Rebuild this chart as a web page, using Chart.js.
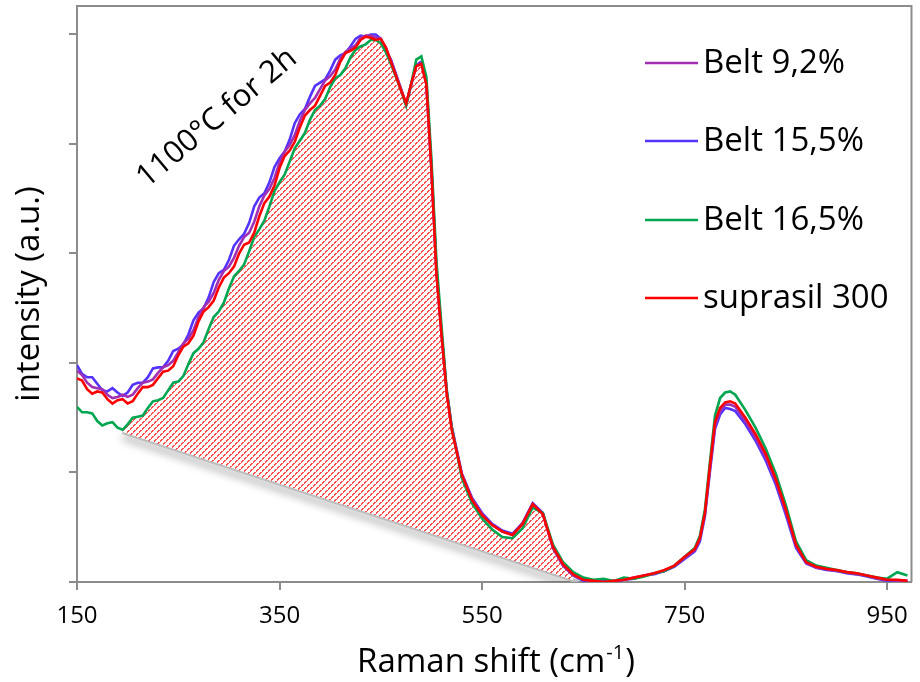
<!DOCTYPE html>
<html>
<head>
<meta charset="utf-8">
<script src="https://cdn.jsdelivr.net/npm/chart.js@4.4.0/dist/chart.umd.min.js"></script>
<style>
  html, body { margin: 0; padding: 0; background: #ffffff; }
  #wrap { width: 920px; height: 682px; }
</style>
</head>
<body>
<div id="wrap"><canvas id="raman" width="920" height="682"></canvas></div>
<script>
// Raman shift positions (cm-1) shared by all spectra
const shift = [
  150,155,160,165,170,175,180,185,190,195,200,205,210,215,220,225,230,235,240,245,250,255,260,265,270,275,280,285,290,295,
  300,305,310,315,320,325,330,335,340,345,350,355,360,365,370,375,380,385,390,395,400,405,410,415,420,425,430,435,440,445,450,455,460,
  470,475,480,485,490,495,500,505,510,515,520,
  530,540,550,560,570,580,590,600,610,620,630,640,650,660,670,680,690,700,710,720,730,740,750,
  760,765,770,775,780,785,790,795,800,
  810,820,830,840,850,860,870,880,890,900,910,920,930,940,950,960,970
];

// Intensities (a.u.)
const belt92 = [
  1.93,1.89,1.82,1.78,1.77,1.76,1.71,1.68,1.69,1.71,1.69,1.71,1.77,1.82,1.83,1.85,1.91,1.96,1.98,2.02,2.10,2.18,2.22,2.30,2.42,2.51,2.56,2.64,2.76,2.84,
  2.88,2.96,3.07,3.15,3.19,3.29,3.43,3.53,3.59,3.69,3.83,3.93,3.99,4.08,4.21,4.31,4.37,4.42,4.50,4.58,4.62,4.68,4.78,4.84,4.87,4.90,4.97,4.99,4.99,4.97,4.96,4.88,4.76,
  4.50,4.36,4.55,4.72,4.74,4.55,3.77,2.82,2.26,1.74,1.41,
  0.98,0.76,0.62,0.52,0.46,0.43,0.53,0.71,0.62,0.31,0.15,0.06,0.02,0.01,0.00,0.01,0.02,0.04,0.06,0.08,0.10,0.15,0.22,
  0.29,0.39,0.62,1.04,1.43,1.56,1.62,1.62,1.60,
  1.47,1.32,1.14,0.92,0.64,0.33,0.18,0.13,0.12,0.10,0.09,0.07,0.06,0.03,0.02,0.01,0.01
];
const belt155 = [
  1.98,1.90,1.87,1.87,1.81,1.75,1.74,1.77,1.73,1.70,1.73,1.80,1.82,1.82,1.87,1.95,1.96,1.96,2.02,2.11,2.13,2.17,2.26,2.39,2.46,2.50,2.60,2.74,2.82,2.85,
  2.94,3.07,3.13,3.18,3.28,3.43,3.51,3.55,3.65,3.79,3.87,3.93,4.04,4.19,4.27,4.32,4.43,4.53,4.56,4.59,4.67,4.77,4.81,4.83,4.89,4.96,4.99,4.98,5.00,5.00,4.96,4.85,4.77,
  4.50,4.36,4.54,4.72,4.75,4.55,3.78,2.84,2.27,1.75,1.42,
  0.99,0.77,0.63,0.53,0.47,0.44,0.54,0.72,0.63,0.31,0.15,0.06,0.01,0.00,0.01,0.00,0.02,0.03,0.06,0.07,0.10,0.14,0.21,
  0.28,0.37,0.60,1.01,1.40,1.53,1.59,1.58,1.56,
  1.44,1.29,1.11,0.89,0.61,0.31,0.17,0.13,0.11,0.10,0.08,0.07,0.05,0.03,0.01,0.01,0.01
];
const belt165 = [
  1.60,1.55,1.55,1.54,1.47,1.43,1.45,1.46,1.41,1.39,1.44,1.50,1.51,1.52,1.59,1.65,1.66,1.68,1.75,1.82,1.83,1.88,1.99,2.09,2.13,2.19,2.31,2.42,2.47,2.55,
  2.68,2.79,2.84,2.90,3.02,3.15,3.22,3.30,3.43,3.57,3.65,3.72,3.84,3.96,4.03,4.10,4.22,4.31,4.35,4.41,4.52,4.60,4.63,4.69,4.79,4.86,4.89,4.91,4.95,4.95,4.92,4.84,4.73,
  4.49,4.35,4.55,4.77,4.80,4.61,3.86,2.92,2.33,1.76,1.41,
  0.95,0.72,0.58,0.48,0.41,0.40,0.49,0.68,0.63,0.34,0.18,0.09,0.04,0.02,0.03,0.01,0.04,0.03,0.05,0.08,0.10,0.15,0.23,
  0.31,0.42,0.66,1.10,1.52,1.68,1.73,1.74,1.71,
  1.57,1.41,1.22,0.99,0.70,0.37,0.20,0.15,0.13,0.11,0.09,0.08,0.06,0.04,0.03,0.09,0.06
];
const suprasil300 = [
  1.86,1.84,1.76,1.72,1.74,1.73,1.67,1.63,1.66,1.67,1.63,1.65,1.72,1.78,1.78,1.80,1.86,1.92,1.93,1.97,2.07,2.15,2.18,2.25,2.38,2.47,2.51,2.57,2.69,2.78,
  2.82,2.88,3.00,3.08,3.10,3.19,3.34,3.46,3.52,3.62,3.78,3.89,3.94,4.02,4.15,4.26,4.31,4.35,4.44,4.53,4.56,4.63,4.75,4.83,4.85,4.88,4.95,4.98,4.97,4.95,4.96,4.88,4.75,
  4.49,4.37,4.55,4.71,4.73,4.54,3.76,2.80,2.25,1.73,1.39,
  0.98,0.75,0.61,0.52,0.46,0.43,0.53,0.71,0.62,0.32,0.16,0.07,0.02,0.01,0.00,0.01,0.02,0.04,0.06,0.08,0.11,0.15,0.23,
  0.30,0.40,0.63,1.06,1.46,1.59,1.64,1.65,1.63,
  1.50,1.35,1.17,0.94,0.66,0.34,0.18,0.14,0.12,0.11,0.09,0.08,0.06,0.04,0.02,0.02,0.01
];

const seriesNames = ['Belt 9,2%', 'Belt 15,5%', 'Belt 16,5%', 'suprasil 300'];
const seriesColors = ['#a02fb4', '#5533ff', '#00a650', '#ff0000'];
const xTicks = [150, 350, 550, 750, 950];
const yTicks = [0, 1, 2, 3, 4, 5];

// Straight baseline under the silica band (area between it and the spectrum is hatched)
const baselineShift = [195, 645];
const baselineLevel = [1.37, 0];

const annotationText = '1100°C for 2h';
const xTitle = 'Raman shift (cm';
const xTitleSup = '-1';
const yTitle = 'intensity (a.u.)';

const FONT = '"Open Sans", "Noto Sans", sans-serif';
const AXIS_GREY = '#8c8c8c';

function toPoints(xs, ys) { return xs.map((x, i) => ({ x: x, y: ys[i] })); }

// Red dashed diagonal hatching on white
function hatchPattern() {
  const s = 12;
  const c = document.createElement('canvas');
  c.width = s; c.height = s;
  const g = c.getContext('2d');
  g.fillStyle = '#ffffff';
  g.fillRect(0, 0, s, s);
  g.fillStyle = 'rgba(255,45,45,0.85)';
  for (let y = 0; y < s; y++) {
    for (let x = 0; x < s; x++) {
      const onStripe = ((x + y) % 6) < 2;
      const gap = ((x - y + s) % 6) === 0;
      if (onStripe && !gap) g.fillRect(x, y, 1, 1);
    }
  }
  return g.createPattern(c, 'repeat');
}

const spectra = [belt92, belt155, belt165, suprasil300];
const drawOrder = [2, 3, 1, 0];

const datasets = spectra.map((vals, i) => ({
  label: seriesNames[i],
  data: toPoints(shift, vals),
  borderColor: seriesColors[i],
  backgroundColor: seriesColors[i],
  borderWidth: 2.6,
  pointRadius: 0,
  tension: 0,
  fill: false,
  order: drawOrder[i]
}));

// hatched band: the 16,5% spectrum between the baseline end points
const hatchX = [], hatchY = [];
shift.forEach((x, i) => {
  if (x >= baselineShift[0] && x <= baselineShift[1]) { hatchX.push(x); hatchY.push(belt165[i]); }
});
const BASE_IDX = 5;
datasets.push({
  label: 'band',
  data: toPoints(hatchX, hatchY),
  borderWidth: 0,
  borderColor: 'rgba(0,0,0,0)',
  backgroundColor: hatchPattern(),
  pointRadius: 0,
  fill: { target: BASE_IDX },
  order: 5
});
datasets.push({
  label: 'baseline',
  data: toPoints(baselineShift, baselineLevel),
  borderColor: 'rgba(190,190,190,1)',
  borderWidth: 4,
  pointRadius: 0,
  fill: false,
  order: 6
});

const decor = {
  id: 'decor',
  beforeDatasetDraw(chart, args) {
    if (args.index === BASE_IDX) {
      const ctx = chart.ctx;
      ctx.save();
      ctx.shadowColor = 'rgba(0,0,0,0.4)';
      ctx.shadowBlur = 8;
      ctx.shadowOffsetX = 0;
      ctx.shadowOffsetY = 5;
    }
  },
  afterDatasetDraw(chart, args) {
    if (args.index === BASE_IDX) chart.ctx.restore();
  },
  afterDraw(chart) {
    const ctx = chart.ctx;
    const a = chart.chartArea;
    ctx.save();
    // top and right frame
    ctx.strokeStyle = AXIS_GREY;
    ctx.lineWidth = 2;
    ctx.beginPath();
    ctx.moveTo(a.left, a.top);
    ctx.lineTo(a.right, a.top);
    ctx.lineTo(a.right, a.bottom);
    ctx.stroke();

    // legend
    const legY = [63, 141, 220, 298];
    ctx.font = '33px ' + FONT;
    ctx.textBaseline = 'middle';
    ctx.textAlign = 'left';
    seriesNames.forEach((n, i) => {
      ctx.strokeStyle = seriesColors[i];
      ctx.lineWidth = 2.6;
      ctx.beginPath();
      ctx.moveTo(645, legY[i]);
      ctx.lineTo(698, legY[i]);
      ctx.stroke();
      ctx.fillStyle = '#000';
      ctx.fillText(n, 703, legY[i] + 1);
    });

    // annotation
    ctx.save();
    ctx.translate(217, 118);
    ctx.rotate(-40 * Math.PI / 180);
    ctx.font = '31px ' + FONT;
    ctx.textAlign = 'center';
    ctx.textBaseline = 'middle';
    ctx.fillStyle = '#000';
    ctx.fillText(annotationText, 0, 0);
    ctx.restore();

    // x axis title with superscript
    ctx.fillStyle = '#000';
    ctx.textBaseline = 'alphabetic';
    ctx.textAlign = 'left';
    ctx.font = '33px ' + FONT;
    const w1 = ctx.measureText(xTitle).width;
    ctx.font = '20px ' + FONT;
    const w2 = ctx.measureText(xTitleSup).width;
    ctx.font = '33px ' + FONT;
    const w3 = ctx.measureText(')').width;
    const x0 = 495 - (w1 + w2 + w3) / 2;
    const base = 672;
    ctx.fillText(xTitle, x0, base);
    ctx.font = '20px ' + FONT;
    ctx.fillText(xTitleSup, x0 + w1 + 1, base - 13);
    ctx.font = '33px ' + FONT;
    ctx.fillText(')', x0 + w1 + w2 + 2, base);

    // y axis title
    ctx.save();
    ctx.translate(30, 294);
    ctx.rotate(-Math.PI / 2);
    ctx.font = '33px ' + FONT;
    ctx.textAlign = 'center';
    ctx.textBaseline = 'middle';
    ctx.fillText(yTitle, 0, 0);
    ctx.restore();

    ctx.restore();
  }
};

new Chart(document.getElementById('raman'), {
  type: 'line',
  data: { datasets: datasets },
  plugins: [decor],
  options: {
    responsive: false,
    animation: false,
    devicePixelRatio: 1,
    layout: { padding: { top: 6, right: 8, left: 0, bottom: 0 } },
    plugins: { legend: { display: false }, tooltip: { enabled: false } },
    scales: {
      x: {
        type: 'linear',
        min: 150,
        max: 974,
        afterBuildTicks: (s) => { s.ticks = xTicks.map(v => ({ value: v })); },
        afterFit: (s) => { s.height = 100; },
        grid: { drawOnChartArea: false, drawTicks: true, tickLength: 8, color: AXIS_GREY, lineWidth: 2 },
        border: { color: AXIS_GREY, width: 2 },
        ticks: { color: '#000', font: { family: FONT, size: 24 }, padding: 12, maxRotation: 0, autoSkip: false }
      },
      y: {
        type: 'linear',
        min: 0,
        max: 5.26,
        afterBuildTicks: (s) => { s.ticks = yTicks.map(v => ({ value: v })); },
        afterFit: (s) => { s.width = 77; },
        grid: { drawOnChartArea: false, drawTicks: true, tickLength: 8, color: AXIS_GREY, lineWidth: 2 },
        border: { color: AXIS_GREY, width: 2 },
        ticks: { display: false }
      }
    }
  }
});
</script>
</body>
</html>
